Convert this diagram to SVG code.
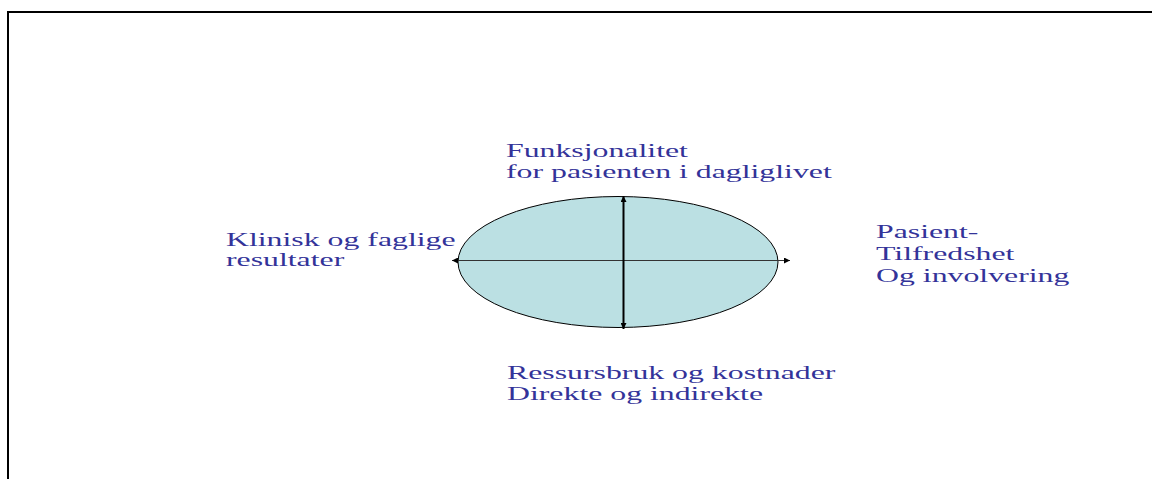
<svg xmlns="http://www.w3.org/2000/svg" width="1152" height="479" viewBox="0 0 1152 479">
  <style>
    .lbl { font-family: "Liberation Serif", "Times New Roman", serif; font-size: 18px; fill: #333399; }
    .frame { fill: none; stroke: #000; stroke-width: 2; }
  </style>
  <defs>
    <marker id="arr" viewBox="0 0 10 10" refX="10" refY="5" markerWidth="6" markerHeight="6" markerUnits="userSpaceOnUse" orient="auto-start-reverse">
      <path d="M0,0 L10,5 L0,10 z" fill="#000"/>
    </marker>
  </defs>
  <rect width="1152" height="479" fill="#fff"/>
  <path class="frame" d="M8,479 L8,12 L1152,12"/>

  <g id="ellipse-node">
    <ellipse cx="618" cy="262" rx="160" ry="65.5" fill="#bbe0e3" stroke="#000" stroke-width="1"/>
  </g>

  <g id="connectors">
    <line x1="452" y1="260.5" x2="790" y2="260.5" stroke="#333" stroke-width="1" marker-start="url(#arr)" marker-end="url(#arr)"/>
    <line x1="623.5" y1="196" x2="623.5" y2="329" stroke="#000" stroke-width="2" marker-start="url(#arr)" marker-end="url(#arr)"/>
  </g>

  <g id="label-top">
    <text class="lbl" transform="translate(506,157) scale(1.767,1)"><tspan x="0" y="0">Funksjonalitet</tspan><tspan x="0" y="21">for pasienten i dagliglivet</tspan></text>
  </g>
  <g id="label-left">
    <text class="lbl" transform="translate(226,245.5) scale(1.767,1)"><tspan x="0" y="0">Klinisk og faglige</tspan><tspan x="0" y="21">resultater</tspan></text>
  </g>
  <g id="label-right">
    <text class="lbl" transform="translate(876,238) scale(1.767,1)"><tspan x="0" y="0">Pasient-</tspan><tspan x="0" y="22">Tilfredshet</tspan><tspan x="0" y="44">Og involvering</tspan></text>
  </g>
  <g id="label-bottom">
    <text class="lbl" transform="translate(507,379) scale(1.767,1)"><tspan x="0" y="0">Ressursbruk og kostnader</tspan><tspan x="0" y="21">Direkte og indirekte</tspan></text>
  </g>
</svg>
